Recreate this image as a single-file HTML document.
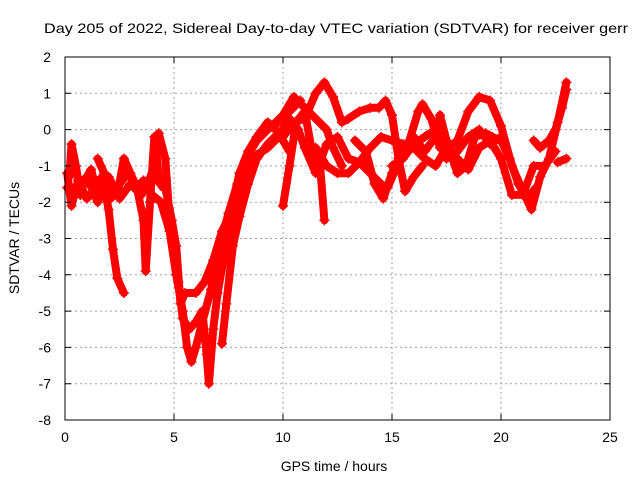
<!DOCTYPE html>
<html><head><meta charset="utf-8"><style>
body{margin:0;background:#fff}
svg{display:block;font-family:"Liberation Sans",sans-serif}
</style></head><body>
<svg id="chart" width="640" height="480" viewBox="0 0 640 480">
<text x="44" y="33" font-size="14" textLength="584" lengthAdjust="spacingAndGlyphs">Day 205 of 2022, Sidereal Day-to-day VTEC variation (SDTVAR) for receiver gerr</text>
<g id="grid"></g>
<g id="series"></g>
<rect x="65" y="57" width="545" height="363" fill="none" stroke="#000" stroke-width="1"/>
<g id="ticks"></g>
<text x="334" y="471" font-size="14" text-anchor="middle">GPS time / hours</text>
<text transform="translate(19,238) rotate(-90)" font-size="14" text-anchor="middle">SDTVAR / TECUs</text>
</svg>
<script>
const xTicks=[0,5,10,15,20,25];
const yTicks=[2,1,0,-1,-2,-3,-4,-5,-6,-7,-8];
const trace1=[[0.2,-1.3],[0.3,-0.4],[0.5,-1.0],[0.7,-1.8],[0.9,-1.4],[1.2,-1.1],[1.4,-1.6],[1.7,-1.3],[2.0,-2.2],[2.2,-3.3],[2.4,-4.1],[2.7,-4.5]];
const trace2=[[0.1,-1.2],[0.3,-2.1],[0.6,-1.4],[1.0,-1.9],[1.3,-1.7],[1.6,-1.4],[2.0,-1.6],[2.4,-1.8],[2.7,-0.8],[3.0,-1.2],[3.3,-1.6],[3.6,-1.4],[4.0,-1.8],[4.4,-2.0],[4.8,-2.8],[5.1,-4.0],[5.4,-5.0],[5.6,-6.0],[5.8,-6.4],[6.0,-6.0],[6.3,-5.3],[6.7,-4.4],[7.1,-3.2],[7.5,-2.3],[7.9,-1.5],[8.3,-0.8],[8.8,-0.3],[9.3,0.0],[9.8,0.2],[10.3,0.5],[10.8,0.8]];
const trace3=[[1.5,-0.8],[1.8,-1.2],[2.1,-1.9],[2.5,-1.5],[2.9,-1.2],[3.3,-1.6],[3.6,-2.5],[3.7,-3.9],[3.9,-2.0],[4.1,-0.2],[4.3,-1.3],[4.6,-1.6],[4.9,-2.5],[5.1,-3.2],[5.3,-4.8],[5.5,-4.5],[6.0,-4.5],[6.4,-4.2],[6.8,-3.6],[7.2,-2.8],[7.6,-2.3],[8.0,-1.2],[8.4,-0.6],[8.8,-0.2],[9.3,0.2],[10,-0.2],[10.5,0.2],[11.0,0.3],[11.5,1.0],[11.9,1.3],[12.3,0.9],[12.7,0.2],[13.0,0.3],[13.5,0.5],[14.0,0.6],[14.4,0.6],[14.7,0.8],[15.0,0.4],[15.3,-0.8],[15.6,-1.7],[16.0,-1.3],[16.4,-1.0]];
const trace4=[[4.3,-0.1],[4.6,-0.8],[4.8,-2.5],[5.0,-3.0],[5.2,-4.2],[5.4,-5.2],[5.7,-5.5],[6.0,-5.3],[6.3,-5.0],[6.5,-6.2],[6.6,-7.0],[6.8,-5.5],[7.0,-4.5],[7.3,-3.5],[7.6,-2.6],[8.0,-1.8],[8.4,-1.0],[8.8,-0.7],[9.3,-0.5],[9.8,-0.2],[10.3,0.3],[10.7,0.0],[11.0,-0.5],[11.5,-1.2],[12.0,-0.4],[12.5,-0.2],[13.0,-0.8],[13.5,-0.9],[14.0,-1.2],[14.5,-1.5],[14.8,-1.6],[15.3,-0.9],[15.8,-0.3],[16.2,0.5],[16.4,0.7],[16.8,0.3],[17.2,-0.5],[17.6,-0.5],[18.0,-0.3],[18.5,0.5],[19.0,0.9],[19.5,0.8],[20.0,0.1],[20.5,-1.0],[21.0,-1.7],[21.4,-2.2],[21.8,-1.3],[22.2,-0.8],[22.6,0.2],[23.0,1.3]];
const trace5=[[7.2,-5.9],[7.4,-4.8],[7.7,-3.2],[8.0,-2.4],[8.4,-1.5],[8.8,-0.8],[9.3,-0.4],[9.8,-0.1],[10.3,-0.6]];
const trace6=[[10.0,-2.1],[10.3,-1.0],[10.6,0.2],[11.0,0.5],[11.3,-0.5],[11.7,-1.0],[11.9,-2.5]];
const trace7=[[11.5,-0.5],[12.0,-1.0],[12.5,-1.2],[13.0,-1.2],[13.5,-0.9],[14.0,-0.5],[14.5,-0.2],[15.0,-0.3],[15.5,-0.4],[16,-0.5],[16.5,-0.8],[17,-1.0],[17.5,-0.5],[18,-0.8],[18.5,-1.1],[19,-0.5],[19.5,-0.3],[20,-0.8],[20.5,-1.8],[21,-1.8],[21.5,-1.0],[22,-1.0],[22.5,-0.6]];
const trace8=[[13.3,-0.3],[13.8,-0.6],[14.2,-1.5],[14.6,-1.9],[15.0,-1.2],[15.5,-0.6],[16.0,-0.2],[16.5,-0.6],[17.0,-0.2],[17.2,0.4],[17.5,-0.3],[18,-1.2],[18.4,-1.0],[18.8,-0.2],[19.3,-0.1],[19.6,-0.2],[20.0,-0.3],[20.4,-0.8],[20.8,-1.5],[21.2,-1.9],[21.6,-1.6]];
const trace9=[[21.5,-0.3],[21.8,-0.5],[22.2,-0.3],[22.5,0],[22.8,0.6],[23.0,1.1]];
const trace10=[[22.6,-0.9],[23.0,-0.8]];
const trace11=[[0.1,-1.6],[0.5,-1.6],[1.0,-1.3],[1.5,-2.0],[2.0,-1.3],[2.5,-1.9],[3.0,-1.5],[3.5,-1.8],[4.0,-1.2],[4.5,-1.6]];
const trace12=[[9.5,0.1],[10.0,0.4],[10.5,0.9],[11.0,0.6],[11.5,0.3],[12.0,0.0],[12.3,-0.5],[12.7,-1.0]];
const trace13=[[15.0,-1.0],[15.5,-0.8],[16.0,-0.4],[16.5,-0.2],[17.0,0.0],[17.5,-0.8],[18.0,-0.6],[18.5,-0.2],[19.0,0.0],[19.5,-0.4],[20.0,-0.2]];
const traces=[trace1,trace2,trace3,trace4,trace5,trace6,trace7,trace8,trace9,trace10,trace11,trace12,trace13];

const X0=65,X1=610,Y0=57,Y1=420;
const sx=t=>X0+(t-0)/(25-0)*(X1-X0);
const sy=v=>Y0+(2-v)/(2-(-8))*(Y1-Y0);
const NS="http://www.w3.org/2000/svg";
const grid=document.getElementById('grid'),ticks=document.getElementById('ticks'),series=document.getElementById('series');
function mk(tag,attrs,parent){const e=document.createElementNS(NS,tag);for(const k in attrs)e.setAttribute(k,attrs[k]);parent.appendChild(e);return e;}
xTicks.forEach(t=>{
  const x=sx(t);
  if(t>0&&t<25){const g=mk('line',{x1:x,x2:x,y1:Y0,y2:Y1,stroke:'#a0a0a0','stroke-dasharray':'2,3'},grid);
  
  }
  const tk=mk('path',{d:`M${x},${Y1}v-6M${x},${Y0}v6`,stroke:'#000'},ticks);
  
  
  const l=mk('text',{x:x,y:Y1+22,'font-size':14,'text-anchor':'middle'},ticks);l.textContent=t;
  
  
});
yTicks.forEach(v=>{
  const y=sy(v);
  if(v<2&&v>-8){const g=mk('line',{x1:X0,x2:X1,y1:y,y2:y,stroke:'#a0a0a0','stroke-dasharray':'2,3'},grid);
  
  }
  const tk=mk('path',{d:`M${X0},${y}h6M${X1},${y}h-6`,stroke:'#000'},ticks);
  
  
  const l=mk('text',{x:X0-14,y:y+5,'font-size':14,'text-anchor':'end'},ticks);l.textContent=v;
  
  
});
traces.forEach((tr,i)=>{
  const pts=tr.map(p=>sx(p[0]).toFixed(1)+','+sy(p[1]).toFixed(1)).join(' ');
  const pl=mk('polyline',{points:pts,fill:'none',stroke:'#ff0000','stroke-width':8,'stroke-linejoin':'round','stroke-linecap':'round'},series);
  
  
  let d='';
  tr.forEach(p=>{const x=sx(p[0]),y=sy(p[1]);d+=`M${x-5},${y}h10M${x},${y-5}v10`;});
  const m=mk('path',{d:d,stroke:'#ff0000','stroke-width':1.5},series);
  
  
});
</script>
</body></html>
